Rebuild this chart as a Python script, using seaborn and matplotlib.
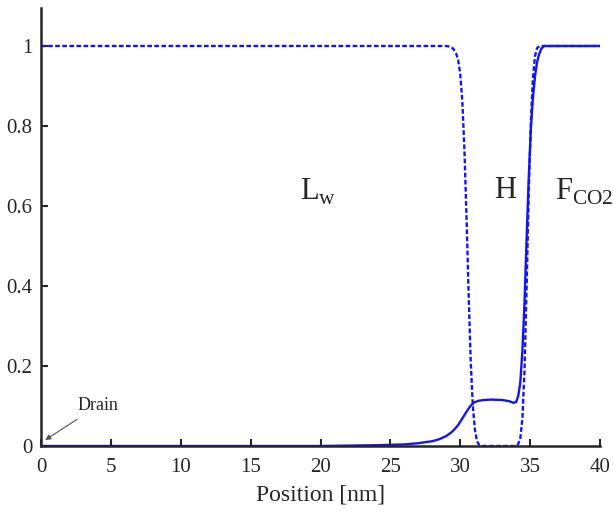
import matplotlib
matplotlib.use("Agg")
import matplotlib.pyplot as plt
import seaborn as sns
import pandas as pd

# Dashed curve (water-rich phase fraction)
dash_x = [0, 28, 29.0, 29.3, 29.5, 29.7, 29.85, 30.0, 30.15, 30.3, 30.45, 30.6, 30.75, 30.9,
          31.05, 31.2, 31.35, 31.5, 32, 33, 34.0, 34.15, 34.3, 34.45, 34.6, 34.75, 34.9,
          35.05, 35.2, 35.35, 35.5, 35.7, 36, 40]
dash_y = [1, 1, 1.0, 0.998, 0.993, 0.982, 0.965, 0.93, 0.86, 0.74, 0.57, 0.38, 0.21, 0.1,
          0.04, 0.012, 0.003, 0.0, 0, 0, 0.0, 0.005, 0.02, 0.07, 0.19, 0.40, 0.63,
          0.81, 0.92, 0.975, 0.995, 1.0, 1, 1]

# Solid curve
solid_x = [0, 20, 24, 26, 27, 28, 28.5, 29, 29.4, 29.8, 30.1, 30.4, 30.7, 31.0, 31.3, 31.7,
           32.2, 33.0, 33.5, 33.8, 34.0, 34.15, 34.3, 34.45, 34.6, 34.75, 34.9, 35.05, 35.2,
           35.35, 35.5, 35.65, 35.8, 36.0, 40]
solid_y = [0, 0, 0.002, 0.004, 0.007, 0.012, 0.017, 0.025, 0.035, 0.05, 0.066, 0.083, 0.099,
           0.109, 0.113, 0.115, 0.116, 0.115, 0.112, 0.108, 0.11, 0.125, 0.16, 0.24, 0.36,
           0.52, 0.67, 0.79, 0.87, 0.925, 0.96, 0.98, 0.993, 1.0, 1.0]

x_ticks = [0, 5, 10, 15, 20, 25, 30, 35, 40]
y_ticks = [0, 0.2, 0.4, 0.6, 0.8, 1]
y_tick_labels = ["0", "0.2", "0.4", "0.6", "0.8", "1"]

sns.set_style("ticks")
plt.rcParams["font.family"] = ["Liberation Serif", "DejaVu Serif"]
plt.rcParams["mathtext.fontset"] = "custom"
plt.rcParams["mathtext.rm"] = "Liberation Serif"

fig = plt.figure(figsize=(6.13, 5.12), dpi=100)
ax = fig.add_axes([41 / 613, 66 / 512, 559 / 613, 438 / 512])

blue = "#1515f0"
df_d = pd.DataFrame({"x": dash_x, "y": dash_y})
df_s = pd.DataFrame({"x": solid_x, "y": solid_y})
sns.lineplot(data=df_d, x="x", y="y", ax=ax, color=blue, lw=1.7, dashes=False)
ax.lines[-1].set_dashes((2, 1))
sns.lineplot(data=df_s, x="x", y="y", ax=ax, color=blue, lw=1.7)

ax.set_xlim(0, 40)
ax.set_ylim(0, 1.095)
ax.set_xticks(x_ticks)
ax.set_yticks(y_ticks)
ax.set_yticklabels(y_tick_labels)
ax.tick_params(direction="in", length=5, width=1.5, labelsize=15)
ax.tick_params(axis="x", pad=9)
ax.tick_params(axis="y", pad=6)
for s in ["top", "right"]:
    ax.spines[s].set_visible(False)
for s in ["left", "bottom"]:
    ax.spines[s].set_linewidth(1.8)
ax.set_xlabel("Position [nm]", fontsize=17, labelpad=5)
ax.set_ylabel("")

ax.text(18.5, 0.635, r"L$_\mathrm{w}$", fontsize=22, va="center")
ax.text(32.4, 0.64, "H", fontsize=22, va="center")
ax.text(36.8, 0.635, r"F$_\mathrm{CO2}$", fontsize=22, va="center", clip_on=False)

ax.annotate("Drain", xy=(0.3, 0.015), xytext=(2.6, 0.10), fontsize=13, va="center",
            arrowprops=dict(arrowstyle="-|>", color="#555555", lw=0.8,
                            shrinkA=2, shrinkB=0, mutation_scale=8))

fig.savefig("out.png", dpi=100)
